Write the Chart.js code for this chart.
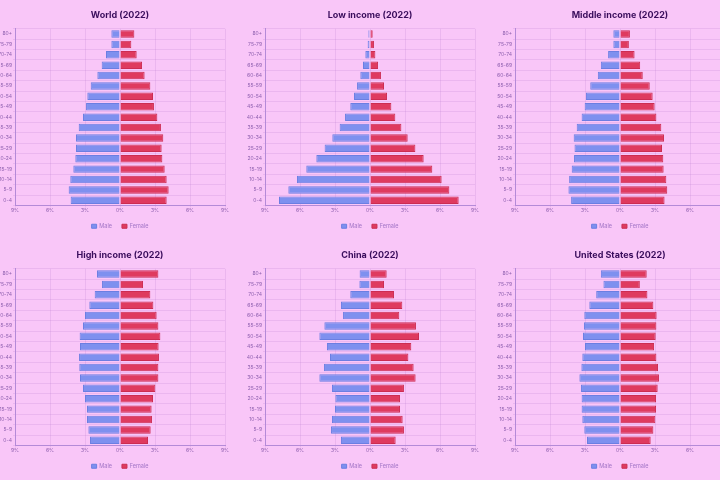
<!DOCTYPE html>
<html>
<head>
<meta charset="utf-8">
<title>Population pyramids (2022)</title>
<script src="https://cdn.jsdelivr.net/npm/chart.js@4"></script>
<style>
  html, body { margin: 0; width: 720px; height: 480px; overflow: hidden; background: #f9c6f8; }
  .cell { position: absolute; width: 250px; height: 240px; }
</style>
</head>
<body>
<div class="cell" style="left:-5px;top:0"><canvas class="world" width="250" height="240"></canvas></div>
<div class="cell" style="left:245px;top:0"><canvas class="low" width="250" height="240"></canvas></div>
<div class="cell" style="left:495px;top:0"><canvas class="middle" width="250" height="240"></canvas></div>
<div class="cell" style="left:-5px;top:240px"><canvas class="high" width="250" height="240"></canvas></div>
<div class="cell" style="left:245px;top:240px"><canvas class="china" width="250" height="240"></canvas></div>
<div class="cell" style="left:495px;top:240px"><canvas class="usa" width="250" height="240"></canvas></div>
<script>
// age groups, bottom of the pyramid first
const ageGroups = ['0-4', '5-9', '10-14', '15-19', '20-24', '25-29', '30-34', '35-39', '40-44',
  '45-49', '50-54', '55-59', '60-64', '65-69', '70-74', '75-79', '80+'];
const xTicks = [-9, -6, -3, 0, 3, 6, 9]; // % of population

const worldMale = [4.23, 4.4, 4.26, 4.0, 3.83, 3.77, 3.77, 3.54, 3.17, 2.91, 2.8, 2.51, 1.94, 1.57, 1.2, 0.74, 0.74];
const worldFemale = [4.0, 4.17, 4.0, 3.83, 3.63, 3.57, 3.71, 3.51, 3.2, 2.91, 2.83, 2.6, 2.11, 1.89, 1.43, 0.97, 1.23];

const lowMale = [7.8, 7.0, 6.26, 5.46, 4.6, 3.89, 3.23, 2.6, 2.14, 1.69, 1.37, 1.11, 0.83, 0.6, 0.4, 0.2, 0.14];
const lowFemale = [7.6, 6.8, 6.14, 5.34, 4.6, 3.89, 3.23, 2.69, 2.17, 1.83, 1.46, 1.2, 0.94, 0.69, 0.46, 0.34, 0.23];

const middleMale = [4.19, 4.42, 4.36, 4.14, 3.94, 3.9, 3.97, 3.71, 3.29, 3.03, 2.92, 2.55, 1.9, 1.64, 1.02, 0.57, 0.57];
const middleFemale = [3.82, 4.05, 3.97, 3.74, 3.71, 3.6, 3.77, 3.54, 3.12, 2.97, 2.8, 2.55, 1.95, 1.73, 1.25, 0.76, 0.85];

const highMale = [2.57, 2.71, 2.83, 2.83, 3.0, 3.17, 3.43, 3.49, 3.51, 3.43, 3.46, 3.17, 3.0, 2.63, 2.17, 1.54, 1.97];
const highFemale = [2.4, 2.63, 2.74, 2.71, 2.83, 3.03, 3.29, 3.29, 3.34, 3.31, 3.46, 3.29, 3.14, 2.86, 2.6, 1.97, 3.29];

const chinaMale = [2.49, 3.34, 3.26, 3.0, 2.97, 3.26, 4.34, 3.94, 3.43, 3.69, 4.34, 3.91, 2.31, 2.49, 1.69, 0.91, 0.89];
const chinaFemale = [2.2, 2.91, 2.8, 2.57, 2.57, 2.91, 3.91, 3.74, 3.29, 3.54, 4.2, 3.94, 2.51, 2.77, 2.06, 1.2, 1.43];

const usaMale = [2.83, 3.06, 3.23, 3.29, 3.29, 3.34, 3.48, 3.31, 3.23, 3.0, 3.17, 3.09, 3.06, 2.63, 2.04, 1.42, 1.64];
const usaFemale = [2.63, 2.86, 3.03, 3.09, 3.09, 3.23, 3.34, 3.26, 3.12, 2.92, 3.06, 3.12, 3.14, 2.86, 2.35, 1.7, 2.29];

Chart.defaults.font.family = 'Inter, "Noto Sans", sans-serif';

const gridColor = 'rgba(170, 110, 200, 0.18)';
const axisColor = '#b48ad8';
const tickColor = '#8d5fae';

function makePyramid(selector, title, male, female) {
    return new Chart(document.querySelector(selector), {
        type: 'bar',
        data: {
            labels: ageGroups,
            datasets: [
                {
                    label: 'Male',
                    data: male.map(v => -v),
                    backgroundColor: '#7e90ef',
                    borderColor: '#6b7ee2',
                    borderWidth: 1,
                },
                {
                    label: 'Female',
                    data: female,
                    backgroundColor: '#df3a5f',
                    borderColor: '#cc2c52',
                    borderWidth: 1,
                },
            ],
        },
        options: {
            indexAxis: 'y',
            responsive: false,
            animation: false,
            layout: { padding: { left: 2, right: 2, bottom: 1 } },
            plugins: {
                title: {
                    display: true,
                    text: title,
                    color: '#3a0d5c',
                    font: { size: 9, weight: 'bold' },
                    padding: { top: 10, bottom: 8 },
                },
                legend: {
                    position: 'bottom',
                    labels: { boxWidth: 5, boxHeight: 4, padding: 10, color: '#a275c6', font: { size: 5.5 } },
                },
                tooltip: { enabled: false },
            },
            scales: {
                x: {
                    stacked: true,
                    min: xTicks[0],
                    max: xTicks[xTicks.length - 1],
                    ticks: {
                        stepSize: xTicks[1] - xTicks[0],
                        callback: v => Math.abs(v) + '%',
                        color: tickColor,
                        font: { size: 5 },
                        padding: 0,
                    },
                    grid: { color: gridColor, tickLength: 2 },
                    border: { color: axisColor },
                },
                y: {
                    stacked: true,
                    reverse: true,
                    ticks: { color: tickColor, font: { size: 5 }, padding: 1 },
                    grid: { color: gridColor, tickLength: 2 },
                    border: { color: axisColor },
                    afterFit: scale => { scale.width = 18; },
                },
                // empty axis on the right so the title sits over the plot centre
                yRight: {
                    type: 'category',
                    position: 'right',
                    ticks: { display: false },
                    grid: { display: false },
                    border: { display: false },
                    afterFit: scale => { scale.width = 18; },
                },
            },
        },
    });
}

makePyramid('.world', 'World (2022)', worldMale, worldFemale);
makePyramid('.low', 'Low income (2022)', lowMale, lowFemale);
makePyramid('.middle', 'Middle income (2022)', middleMale, middleFemale);
makePyramid('.high', 'High income (2022)', highMale, highFemale);
makePyramid('.china', 'China (2022)', chinaMale, chinaFemale);
makePyramid('.usa', 'United States (2022)', usaMale, usaFemale);
</script>
</body>
</html>
